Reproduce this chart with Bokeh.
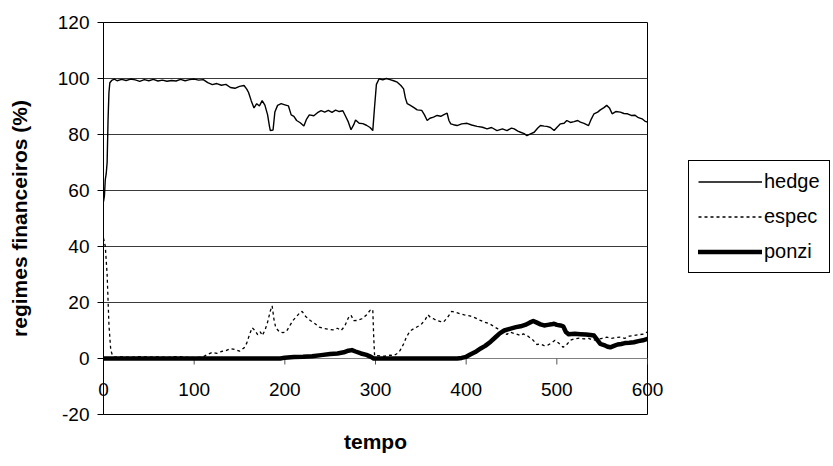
import math
from bokeh.plotting import figure
from bokeh.models import (Range1d, FixedTicker, Legend, LegendItem)
from bokeh.embed import file_html
from bokeh.resources import INLINE

# ---- data ----
hedge_t = [0, 1, 2, 3, 4, 5, 6, 7, 9, 12, 15, 20, 25, 30, 35, 40, 45, 50, 55, 60, 65, 70, 75, 80, 85, 90, 95,
           100, 105, 110, 115, 120, 125, 130, 135, 140, 145, 150, 155, 158, 160, 163, 166, 169, 172, 175, 178,
           181, 183, 184, 187, 189, 192, 196, 200, 204, 207, 210, 213, 217, 221, 224, 227, 232, 236, 240, 244,
           248, 252, 256, 260, 264, 267, 270, 273, 276, 278, 282, 286, 290, 294, 297, 299, 301, 304, 308, 312,
           316, 320, 324, 328, 331, 333, 335, 338, 342, 346, 351, 354, 357, 360, 364, 368, 372, 376, 379, 381,
           383, 386, 390, 395, 401, 406, 412, 418, 423, 428, 434, 440, 445, 450, 453, 457, 460, 464, 467, 471,
           475, 479, 482, 486, 489, 493, 497, 500, 504, 508, 511, 515, 519, 523, 526, 530, 535, 538, 541, 545,
           548, 552, 555, 558, 561, 565, 570, 574, 578, 582, 586, 590, 594, 597, 600]
hedge_v = [56, 58, 64, 66, 70, 85, 95, 98.5, 99.3, 99.8, 99.2, 99.7, 99.3, 99.8, 99.5, 99.0, 99.6, 99.2, 99.7,
           99.1, 99.4, 99.0, 99.3, 99.1, 99.7, 99.2, 99.6, 99.8, 99.4, 99.6, 98.5, 97.8, 98.2, 97.6, 97.9, 96.8,
           96.5, 97.2, 97.5, 96.2, 95.0, 92.0, 89.5, 91.0, 90.2, 92.1, 90.5, 87.0, 83.0, 81.4, 81.6, 88.0, 90.4,
           91.0, 90.6, 90.2, 87.0, 86.5, 85.0, 84.2, 83.0, 85.5, 87.0, 86.7, 87.8, 88.5, 88.0, 88.6, 87.9, 88.7,
           88.2, 88.5, 86.5, 84.5, 81.7, 83.5, 85.2, 84.0, 83.9, 83.3, 82.5, 81.4, 90.0, 97.9, 99.9, 99.5, 100.0,
           99.6, 99.2, 98.7, 97.5, 96.3, 93.0, 91.0, 90.5, 89.7, 88.8, 88.6, 87.0, 85.0, 85.8, 86.2, 86.8, 86.5,
           87.2, 87.6, 85.0, 83.8, 83.5, 83.2, 83.8, 84.0, 83.4, 82.9, 82.6, 82.0, 82.5, 81.4, 82.0, 81.4, 82.3,
           82.0, 81.2, 80.8, 80.3, 79.6, 80.2, 80.8, 82.3, 83.2, 83.0, 82.9, 82.5, 81.4, 82.5, 83.8, 84.0, 85.0,
           84.3, 84.6, 85.0, 84.4, 84.0, 83.2, 85.5, 87.4, 88.0, 88.8, 89.6, 90.4, 89.5, 87.4, 88.2, 88.0, 87.5,
           87.4, 86.8, 86.9, 86.0, 85.6, 84.8, 84.4]

espec_t = [0, 2, 4, 6, 8, 10, 12, 20, 30, 40, 50, 60, 70, 80, 90, 100, 110, 115, 120, 125, 130, 135, 140, 145,
           150, 155, 158, 161, 164, 167, 170, 173, 175, 178, 181, 184, 186, 188, 190, 194, 198, 202, 206, 209,
           213, 217, 219, 223, 228, 233, 238, 243, 248, 253, 258, 262, 266, 270, 273, 276, 280, 285, 290, 294,
           297, 298, 299, 302, 310, 316, 320, 324, 327, 331, 334, 338, 342, 347, 351, 355, 358, 361, 364, 368,
           372, 375, 379, 384, 388, 393, 398, 404, 410, 415, 420, 426, 430, 435, 440, 445, 448, 455, 460, 463,
           468, 474, 478, 482, 486, 490, 494, 498, 502, 507, 511, 515, 519, 525, 530, 535, 540, 545, 550, 555,
           560, 565, 570, 575, 580, 585, 590, 596, 600]
espec_v = [43, 40, 30, 12, 3, 1, 0.5, 0.6, 0.4, 0.7, 0.5, 0.6, 0.4, 0.7, 0.5, 0.3, 0.6, 1.5, 2.2, 1.8, 2.5, 2.8,
           3.5, 3.2, 2.6, 3.8, 5.5, 8.5, 11, 10, 8.5, 9.5, 8.2, 10, 13, 17, 18.8, 14, 11, 9.5, 9.2, 9.8, 12, 13.6,
           15, 16.5, 16.8, 15, 13.6, 12.5, 11.2, 10.7, 10.5, 10.2, 10.8, 10, 11.5, 14.5, 15.5, 13.5, 13.6, 14.2,
           15.5, 17.2, 17.5, 8, 1, 1, 0.8, 1.2, 1, 1.8, 2.8, 5.2, 7.6, 9.8, 10.6, 11.5, 12.4, 14, 15.6, 14.5,
           14.2, 13.5, 13.2, 13, 14.5, 16.8, 16.5, 16, 15.6, 15.2, 14.5, 13.7, 13, 12.4, 11.5, 10.6, 9.8, 8.6,
           9.4, 8.8, 8.2, 8.8, 8, 6.5, 5, 5.2, 4.6, 4.8, 5.5, 6.5, 5.5, 4, 5, 6.5, 7, 7.3, 7, 7.2, 6.5, 6.8, 7.2,
           7.6, 7.2, 7.5, 7.6, 7.2, 8, 8.2, 8.5, 8.7, 9.5]

ponzi_t = [0, 195, 200, 210, 220, 230, 240, 250, 258, 265, 270, 274, 278, 284, 290, 295, 298, 390, 395, 400, 405,
           410, 416, 421, 427, 432, 437, 442, 448, 455, 460, 465, 470, 474, 478, 482, 486, 490, 494, 497, 500,
           504, 507, 510, 513, 520, 526, 532, 537, 541, 545, 548, 552, 556, 559, 563, 567, 571, 575, 580, 585,
           590, 595, 600]
ponzi_v = [0, 0, 0.3, 0.5, 0.6, 0.8, 1.2, 1.6, 1.8, 2.2, 2.8, 3.0, 2.5, 1.8, 1.3, 0.6, 0, 0, 0.2, 0.6, 1.5, 2.3,
           3.6, 4.5, 6, 7.5, 9, 10, 10.6, 11.2, 11.5, 12, 12.8, 13.4, 12.8, 12.2, 11.8, 12, 12.2, 12.4, 12, 11.8,
           11.5, 9.5, 8.7, 8.8, 8.7, 8.6, 8.4, 8.2, 6.5, 5.2, 4.8, 4.2, 4, 4.5, 5, 5.2, 5.5, 5.6, 5.8, 6.2, 6.5, 7]

x_ticks = [0, 100, 200, 300, 400, 500, 600]
y_ticks = [-20, 0, 20, 40, 60, 80, 100, 120]
series_names = ["hedge", "espec", "ponzi"]

FONT = "Liberation Sans"

p = figure(frame_width=544, frame_height=392, output_backend="svg", toolbar_location=None,
           x_range=Range1d(0, 600), y_range=Range1d(-20, 120))
p.min_border_left = 103
p.min_border_right = 0
p.min_border_top = 22
p.min_border_bottom = 44
p.background_fill_color = "white"
p.border_fill_color = "white"
p.outline_line_color = "black"
p.outline_line_width = 1
p.outline_line_alpha = 1

# y axis
p.yaxis.ticker = FixedTicker(ticks=y_ticks)
p.yaxis.major_label_overrides = {t: str(t) for t in y_ticks}
p.yaxis.axis_line_color = "black"
p.yaxis.major_tick_out = 6
p.yaxis.major_tick_in = 0
p.yaxis.minor_tick_line_color = None
p.yaxis.major_label_standoff = 8
p.yaxis.major_label_text_font = FONT
p.yaxis.major_label_text_font_size = "19px"
p.yaxis.major_label_text_color = "black"
p.yaxis.axis_label = "regimes financeiros (%)"
p.yaxis.axis_label_text_font = FONT
p.yaxis.axis_label_text_font_style = "bold"
p.yaxis.axis_label_text_font_size = "21px"
p.yaxis.axis_label_text_color = "black"
p.yaxis.axis_label_standoff = 24

# x axis: tick labels lifted up to the y = 0 line, title below the frame
p.xaxis.ticker = FixedTicker(ticks=x_ticks)
p.xaxis.major_label_overrides = {t: str(t) for t in x_ticks}
p.xaxis.axis_line_color = None
p.xaxis.major_tick_line_color = None
p.xaxis.minor_tick_line_color = None
p.xaxis.major_label_standoff = -38
p.xaxis.major_label_text_font = FONT
p.xaxis.major_label_text_font_size = "19px"
p.xaxis.major_label_text_color = "black"
p.xaxis.axis_label = "tempo"
p.xaxis.axis_label_text_font = FONT
p.xaxis.axis_label_text_font_style = "bold"
p.xaxis.axis_label_text_font_size = "21px"
p.xaxis.axis_label_text_color = "black"
p.xaxis.axis_label_standoff = 31

p.xgrid.grid_line_color = None
p.ygrid.ticker = FixedTicker(ticks=y_ticks)
p.ygrid.grid_line_color = "#3a3a3a"
p.ygrid.grid_line_width = 1

# x axis line at y = 0 with its tick marks
p.line(x=[x_ticks[0], x_ticks[-1]], y=[0, 0], line_color="#808080", line_width=1)
p.ray(x=x_ticks, y=[0] * len(x_ticks), length=6, length_units="screen",
      angle=-math.pi / 2, line_color="#555555", line_width=1)

r_h = p.line(hedge_t, hedge_v, line_color="black", line_width=1.4)
r_e = p.line(espec_t, espec_v, line_color="black", line_width=1.3, line_dash="3 3")
r_p = p.line(ponzi_t, ponzi_v, line_color="black", line_width=4.5, line_join="round", line_cap="round")

legend = Legend(items=[LegendItem(label=series_names[0], renderers=[r_h]),
                       LegendItem(label=series_names[1], renderers=[r_e]),
                       LegendItem(label=series_names[2], renderers=[r_p])],
                location=(41, 141))
legend.border_line_color = "black"
legend.border_line_width = 1
legend.border_line_alpha = 1
legend.background_fill_color = "white"
legend.background_fill_alpha = 1
legend.label_text_font = FONT
legend.label_text_font_size = "20px"
legend.label_text_color = "black"
legend.glyph_width = 64
legend.glyph_height = 21
legend.label_height = 21
legend.label_standoff = 2
legend.spacing = 12
legend.padding = 9
legend.margin = 0
p.add_layout(legend, "right")

open("out.html", "w").write(file_html(p, INLINE))
